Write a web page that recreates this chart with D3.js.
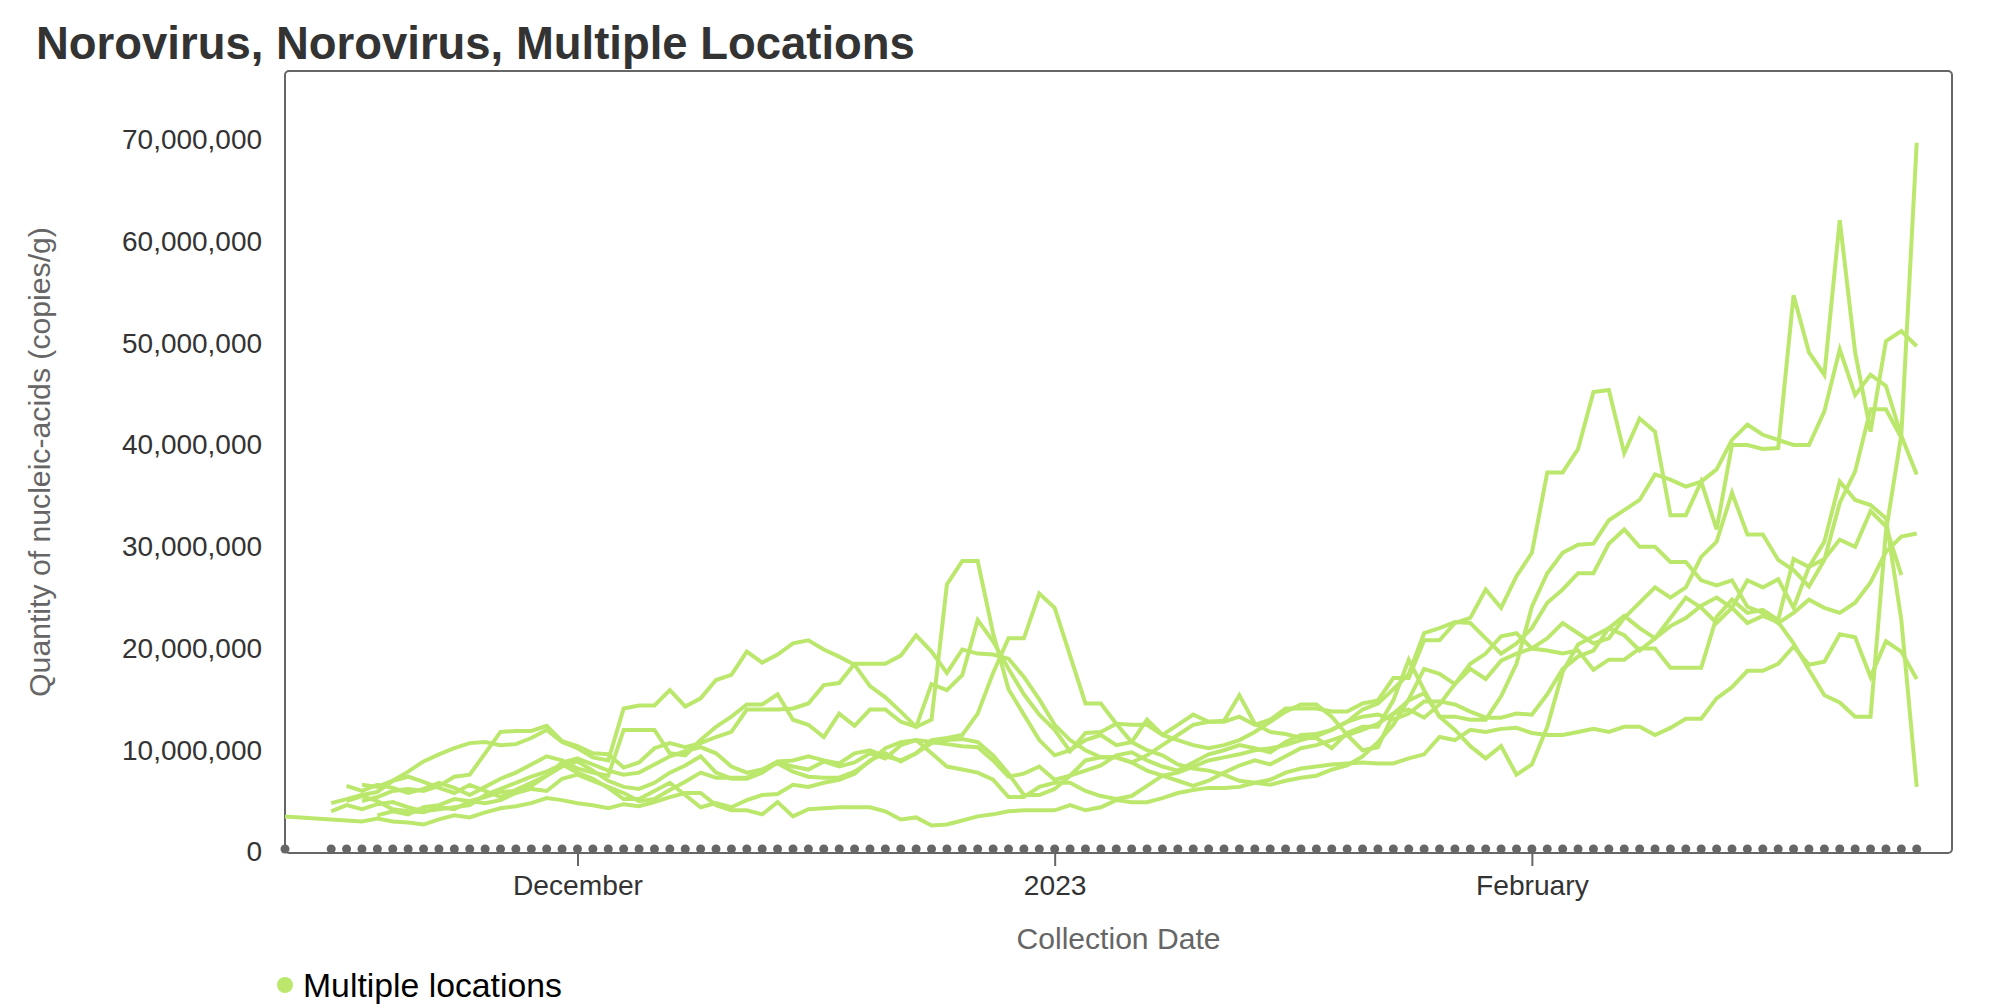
<!DOCTYPE html>
<html>
<head>
<meta charset="utf-8">
<script src="https://cdn.jsdelivr.net/npm/d3@7"></script>
<style>
  html, body { margin: 0; padding: 0; background: #fff; }
  svg { display: block; font-family: "Liberation Sans", Arial, Helvetica, sans-serif; }
</style>
</head>
<body>
<svg id="chart" width="2000" height="1008"></svg>
<script>
// ---------------- DATA ----------------
const dates = [
  "2022-11-12","2022-11-13","2022-11-14","2022-11-15","2022-11-16","2022-11-17","2022-11-18","2022-11-19","2022-11-20","2022-11-21",
  "2022-11-22","2022-11-23","2022-11-24","2022-11-25","2022-11-26","2022-11-27","2022-11-28","2022-11-29","2022-11-30","2022-12-01",
  "2022-12-02","2022-12-03","2022-12-04","2022-12-05","2022-12-06","2022-12-07","2022-12-08","2022-12-09","2022-12-10","2022-12-11",
  "2022-12-12","2022-12-13","2022-12-14","2022-12-15","2022-12-16","2022-12-17","2022-12-18","2022-12-19","2022-12-20","2022-12-21",
  "2022-12-22","2022-12-23","2022-12-24","2022-12-25","2022-12-26","2022-12-27","2022-12-28","2022-12-29","2022-12-30","2022-12-31",
  "2023-01-01","2023-01-02","2023-01-03","2023-01-04","2023-01-05","2023-01-06","2023-01-07","2023-01-08","2023-01-09","2023-01-10",
  "2023-01-11","2023-01-12","2023-01-13","2023-01-14","2023-01-15","2023-01-16","2023-01-17","2023-01-18","2023-01-19","2023-01-20",
  "2023-01-21","2023-01-22","2023-01-23","2023-01-24","2023-01-25","2023-01-26","2023-01-27","2023-01-28","2023-01-29","2023-01-30",
  "2023-01-31","2023-02-01","2023-02-02","2023-02-03","2023-02-04","2023-02-05","2023-02-06","2023-02-07","2023-02-08","2023-02-09",
  "2023-02-10","2023-02-11","2023-02-12","2023-02-13","2023-02-14","2023-02-15","2023-02-16","2023-02-17","2023-02-18","2023-02-19",
  "2023-02-20","2023-02-21","2023-02-22","2023-02-23","2023-02-24","2023-02-25","2023-02-26"
];

// values in millions of copies/g, one per date (null = no sample)
const site1 = [
  3.5,null,null,3.2,3.1,3.0,3.3,3.0,2.9,2.7,
  3.2,3.6,3.4,3.9,4.3,4.5,4.8,5.3,5.1,4.8,
  4.6,4.3,4.7,4.5,4.9,5.4,5.8,5.8,4.6,4.1,
  4.1,3.7,4.9,3.5,4.2,4.3,4.4,4.4,4.4,4.0,
  3.2,3.4,2.6,2.7,3.1,3.5,3.7,4.0,4.1,4.1,
  4.1,4.6,4.1,4.4,5.1,4.9,4.9,5.3,5.8,6.1,
  6.3,6.3,6.4,6.8,7.1,7.8,8.2,8.4,8.6,8.7,
  8.8,8.7,8.7,9.2,9.6,11.3,11.0,12.0,11.8,12.1,
  12.2,11.7,11.5,11.5,11.8,12.1,11.8,12.3,12.3,11.5,
  12.2,13.1,13.1,15.1,16.2,17.8,17.8,18.5,20.2,18.4,
  18.7,21.4,21.1,17.2,20.7,19.7,17.0
];
const site2 = [
  null,null,null,null,6.5,6.0,6.6,6.3,5.8,6.2,
  6.8,6.3,5.6,6.4,7.2,7.8,8.6,9.4,9.0,8.2,
  7.8,7.5,12.0,12.0,12.0,9.7,9.5,11.0,12.3,13.3,
  14.5,14.5,15.5,13.0,12.5,11.3,13.6,12.4,14.0,14.0,
  12.8,12.3,16.5,15.9,17.4,22.8,20.7,18.0,15.5,13.5,
  12.0,9.9,11.7,11.8,12.6,12.5,12.5,11.5,12.5,13.5,
  12.8,12.8,13.3,12.5,13.0,14.1,14.1,14.1,13.8,13.8,
  14.6,14.9,17.1,17.1,20.8,20.8,22.5,23.0,25.8,24.0,
  27.1,29.4,37.3,37.3,39.6,45.2,45.4,39.2,42.6,41.3,
  33.1,33.1,36.4,31.7,40.0,40.0,39.6,39.7,54.7,49.1,
  46.9,62.1,49.1,41.3,50.2,51.2,49.7
];
const site3 = [
  null,null,null,4.0,4.6,4.2,4.7,4.9,4.4,4.0,
  4.2,4.4,4.6,5.6,6.2,6.8,7.4,7.9,8.6,7.8,
  7.2,6.3,5.2,5.2,6.0,6.8,5.6,4.4,4.8,4.4,
  5.1,5.6,5.7,6.6,6.4,6.8,7.1,7.7,9.0,9.7,
  8.9,9.7,10.7,11.0,11.1,10.8,9.5,7.7,5.6,5.6,
  6.2,7.5,9.0,9.3,9.3,8.8,9.5,10.5,11.5,12.5,
  12.8,12.9,15.4,12.6,11.8,11.6,11.2,11.2,10.2,11.7,
  12.3,12.3,14.9,18.9,15.9,13.3,13.3,13.0,13.0,15.3,
  18.5,24.1,27.4,29.4,30.2,30.3,32.6,33.6,34.6,37.1,
  36.6,35.9,36.4,37.6,40.5,42.0,41.0,40.5,40.0,40.0,
  43.3,49.4,44.9,46.9,45.8,40.9,37.1
];
const site4 = [
  null,null,null,null,null,5.0,5.4,6.0,6.2,6.0,
  6.5,7.4,7.6,9.7,11.8,11.9,11.9,12.4,10.9,10.4,
  9.7,9.6,8.3,8.8,10.2,10.7,10.3,10.7,11.3,11.8,
  14.0,14.0,14.0,14.1,14.6,16.4,16.6,18.5,18.5,18.5,
  19.3,21.3,19.7,17.6,19.9,19.5,19.4,19.0,17.2,15.0,
  12.5,11.0,10.0,9.3,9.3,8.8,8.0,7.5,7.8,8.4,
  9.0,9.3,9.6,10.0,10.2,10.5,11.0,11.4,12.0,12.8,
  14.0,14.6,16.0,17.5,21.5,22.0,22.6,22.5,21.0,19.5,
  20.5,22.0,24.5,25.8,27.4,27.4,30.3,31.7,30.0,30.0,
  28.5,28.5,26.7,26.2,26.7,24.1,23.5,22.5,23.5,24.8,
  24.0,23.5,24.5,26.5,29.5,31.0,31.3
];
const site5 = [
  null,null,null,4.8,5.2,5.6,5.9,7.0,7.9,8.9,
  9.6,10.2,10.7,10.8,10.5,10.6,11.2,12.0,10.8,10.2,
  9.3,9.0,14.1,14.4,14.4,15.9,14.3,15.1,16.9,17.4,
  19.7,18.6,19.4,20.5,20.8,19.9,19.2,18.4,16.3,15.2,
  13.8,12.3,13.0,26.3,28.6,28.6,21.5,16.0,13.5,11.0,
  9.5,10.0,11.0,11.5,10.5,10.8,13.0,11.5,11.0,10.5,
  10.2,10.5,11.0,11.8,12.8,13.8,14.5,14.5,13.3,11.5,
  10.0,10.3,13.6,14.9,15.6,13.3,12.0,10.4,9.2,10.4,
  7.6,8.6,12.3,17.7,20.4,21.2,22.0,21.3,19.8,21.0,
  23.0,25.0,24.0,22.5,24.0,26.7,26.0,26.8,24.0,28.0,
  30.5,36.4,34.6,34.1,32.8,22.8,6.4
];
const site6 = [
  null,null,null,null,5.0,5.5,5.0,4.2,4.0,3.9,
  4.4,4.2,5.0,5.4,5.9,6.0,6.5,7.5,8.8,9.2,
  8.6,8.0,7.6,7.8,8.6,9.4,9.9,10.3,9.7,8.4,
  7.8,8.1,8.9,9.0,9.4,9.0,8.7,9.7,10.0,9.4,
  9.0,9.7,11.0,11.2,11.5,13.6,17.6,21.0,21.0,25.4,
  24.0,19.3,14.6,14.6,12.6,10.8,10.0,9.5,8.6,8.2,
  8.0,7.6,7.0,6.8,6.6,7.0,7.3,7.5,8.1,8.5,
  9.4,10.8,12.5,15.0,18.0,17.5,16.5,18.5,19.5,21.2,
  21.5,20.0,19.8,19.5,19.8,17.9,18.9,18.9,20.0,20.0,
  18.1,18.1,18.1,23.1,24.8,23.5,23.8,22.8,28.8,28.0,
  28.8,30.7,30.0,33.5,32.0,27.2,null
];
const site7 = [
  null,null,null,null,null,6.6,6.4,7.0,7.4,6.9,
  6.3,5.8,6.6,6.0,5.4,6.1,6.8,7.5,8.4,8.9,
  8.0,7.0,6.4,6.2,6.8,7.8,8.5,9.4,7.8,7.2,
  7.2,7.8,8.8,8.4,8.1,8.9,8.4,8.8,9.7,9.2,
  10.5,11.0,10.8,10.6,10.4,10.3,9.0,7.4,7.7,8.4,
  7.1,7.5,8.0,8.5,9.5,9.8,9.0,8.4,8.0,8.8,
  9.6,10.0,10.5,10.2,9.8,10.8,11.5,11.6,12.0,12.8,
  13.3,13.5,13.0,13.6,14.8,14.8,14.5,13.8,13.2,13.2,
  13.6,13.5,15.5,18.0,19.2,19.8,22.0,23.2,22.0,21.0,
  22.2,23.0,24.2,25.0,24.0,22.5,23.2,22.6,20.5,17.9,
  15.4,14.7,13.3,13.3,31.5,41.0,69.7
];
const site8 = [
  null,null,null,null,null,null,3.6,4.0,3.7,4.4,
  4.6,5.2,5.0,4.8,5.1,5.8,6.2,6.0,7.2,7.6,
  7.0,6.4,5.8,5.0,5.2,6.1,6.9,7.8,7.3,7.3,
  7.3,8.1,8.7,7.9,7.4,7.3,7.3,7.9,8.9,10.2,
  10.8,11.0,9.7,8.4,8.1,7.8,7.1,5.4,5.4,6.4,
  6.8,6.8,6.0,5.5,5.2,5.5,6.5,7.5,7.0,6.5,
  7.0,7.8,8.5,9.0,8.6,9.4,10.2,10.5,11.0,11.5,
  12.0,12.6,13.6,14.0,13.2,14.5,16.5,18.0,17.0,18.8,
  19.5,20.0,21.0,22.5,21.5,20.5,21.0,23.0,24.5,26.0,
  25.0,26.0,29.0,30.5,35.3,31.2,31.2,28.7,27.7,26.1,
  28.7,34.3,37.4,43.5,43.5,40.7,null
];
const seriesList = [site1, site2, site3, site4, site5, site6, site7, site8];

const yTickValues = [0, 10e6, 20e6, 30e6, 40e6, 50e6, 60e6, 70e6];
const xTickDates = ["2022-12-01", "2023-01-01", "2023-02-01"];
const xTickLabels = ["December", "2023", "February"];

const titleText = "Norovirus, Norovirus, Multiple Locations";
const yAxisTitle = "Quantity of nucleic-acids (copies/g)";
const xAxisTitle = "Collection Date";
const legendLabel = "Multiple locations";

// ---------------- LAYOUT ----------------
const LINE_COLOR = "#bbe86c";
const FRAME_COLOR = "#666666";
const plot = { left: 285, top: 71, right: 1952, bottom: 853 };
const parse = d3.utcParse("%Y-%m-%d");
const yMax = 76.75e6;

const svg = d3.select("#chart");

const x = d3.scaleUtc()
  .domain([parse("2022-11-12"), new Date(Date.UTC(2023, 1, 28, 7))])
  .range([plot.left, plot.right]);
const y = d3.scaleLinear()
  .domain([0, yMax])
  .range([plot.bottom - 1, plot.top]);

// fit font size so text reaches a target width
function fit(sel, target) {
  const node = sel.node();
  const fs = parseFloat(sel.attr("font-size"));
  const w = node.getComputedTextLength();
  if (w > 0) sel.attr("font-size", (fs * target / w).toFixed(2));
  return sel;
}

// title
fit(svg.append("text")
  .attr("x", 36).attr("y", 59)
  .attr("font-size", 44).attr("font-weight", "bold")
  .attr("fill", "#333333")
  .text(titleText), 879);

// frame
svg.append("rect")
  .attr("x", plot.left).attr("y", plot.top)
  .attr("width", plot.right - plot.left).attr("height", plot.bottom - plot.top)
  .attr("rx", 4).attr("ry", 4)
  .attr("fill", "none").attr("stroke", FRAME_COLOR).attr("stroke-width", 2);

// y axis labels
const yAxis = d3.axisLeft(y).tickValues(yTickValues).tickFormat(d3.format(",")).tickSize(0).tickPadding(23);
const gy = svg.append("g").attr("transform", `translate(${plot.left},0)`).call(yAxis);
gy.select(".domain").remove();
gy.selectAll("text").attr("font-size", 26).attr("fill", "#333333")
  .attr("font-family", "Liberation Sans, Arial, sans-serif");
{
  const t = gy.selectAll("text").filter(d => d === 70e6);
  const w = t.node().getComputedTextLength();
  const fs = 26 * 140 / w;
  gy.selectAll("text").attr("font-size", fs.toFixed(2));
}

// x axis ticks & labels
const xAxis = d3.axisBottom(x)
  .tickValues(xTickDates.map(parse))
  .tickFormat((d, i) => xTickLabels[i])
  .tickSize(13).tickPadding(9);
const gx = svg.append("g").attr("transform", `translate(0,${plot.bottom})`).call(xAxis);
gx.select(".domain").remove();
gx.selectAll(".tick line").attr("stroke", FRAME_COLOR).attr("stroke-width", 2);
gx.selectAll("text").attr("font-size", 26).attr("fill", "#333333")
  .attr("font-family", "Liberation Sans, Arial, sans-serif");
{
  const t = gx.selectAll("text").filter((d, i) => i === 0);
  const w = t.node().getComputedTextLength();
  const fs = 26 * 130 / w;
  gx.selectAll("text").attr("font-size", fs.toFixed(2));
}

// axis titles
fit(svg.append("text")
  .attr("x", (plot.left + plot.right) / 2).attr("y", 949)
  .attr("text-anchor", "middle")
  .attr("font-size", 28).attr("fill", "#666666")
  .text(xAxisTitle), 204);

fit(svg.append("text")
  .attr("transform", `translate(50,${(plot.top + plot.bottom) / 2}) rotate(-90)`)
  .attr("text-anchor", "middle")
  .attr("font-size", 28).attr("fill", "#666666")
  .text(yAxisTitle), 470);

// lines
const line = d3.line()
  .defined(d => d.v != null)
  .x(d => x(d.date))
  .y(d => y(d.v * 1e6));

const gLines = svg.append("g");
seriesList.forEach(vals => {
  const pts = dates.map((s, i) => ({ date: parse(s), v: vals[i] })).filter(d => d.v != null);
  gLines.append("path")
    .datum(pts)
    .attr("d", line)
    .attr("fill", "none")
    .attr("stroke", LINE_COLOR)
    .attr("stroke-width", 4)
    .attr("stroke-linejoin", "miter");
});

// sample-date markers along the baseline
const sampled = dates.filter((s, i) => seriesList.some(vals => vals[i] != null));
svg.append("g").selectAll("circle")
  .data(sampled)
  .join("circle")
  .attr("cx", d => x(parse(d)))
  .attr("cy", y(0) - 3)
  .attr("r", 4.5)
  .attr("fill", FRAME_COLOR);

// legend
svg.append("circle").attr("cx", 285).attr("cy", 985).attr("r", 8).attr("fill", LINE_COLOR);
fit(svg.append("text")
  .attr("x", 303).attr("y", 985).attr("dy", "0.35em")
  .attr("font-size", 30).attr("fill", "#000000")
  .text(legendLabel), 259);
</script>
</body>
</html>
